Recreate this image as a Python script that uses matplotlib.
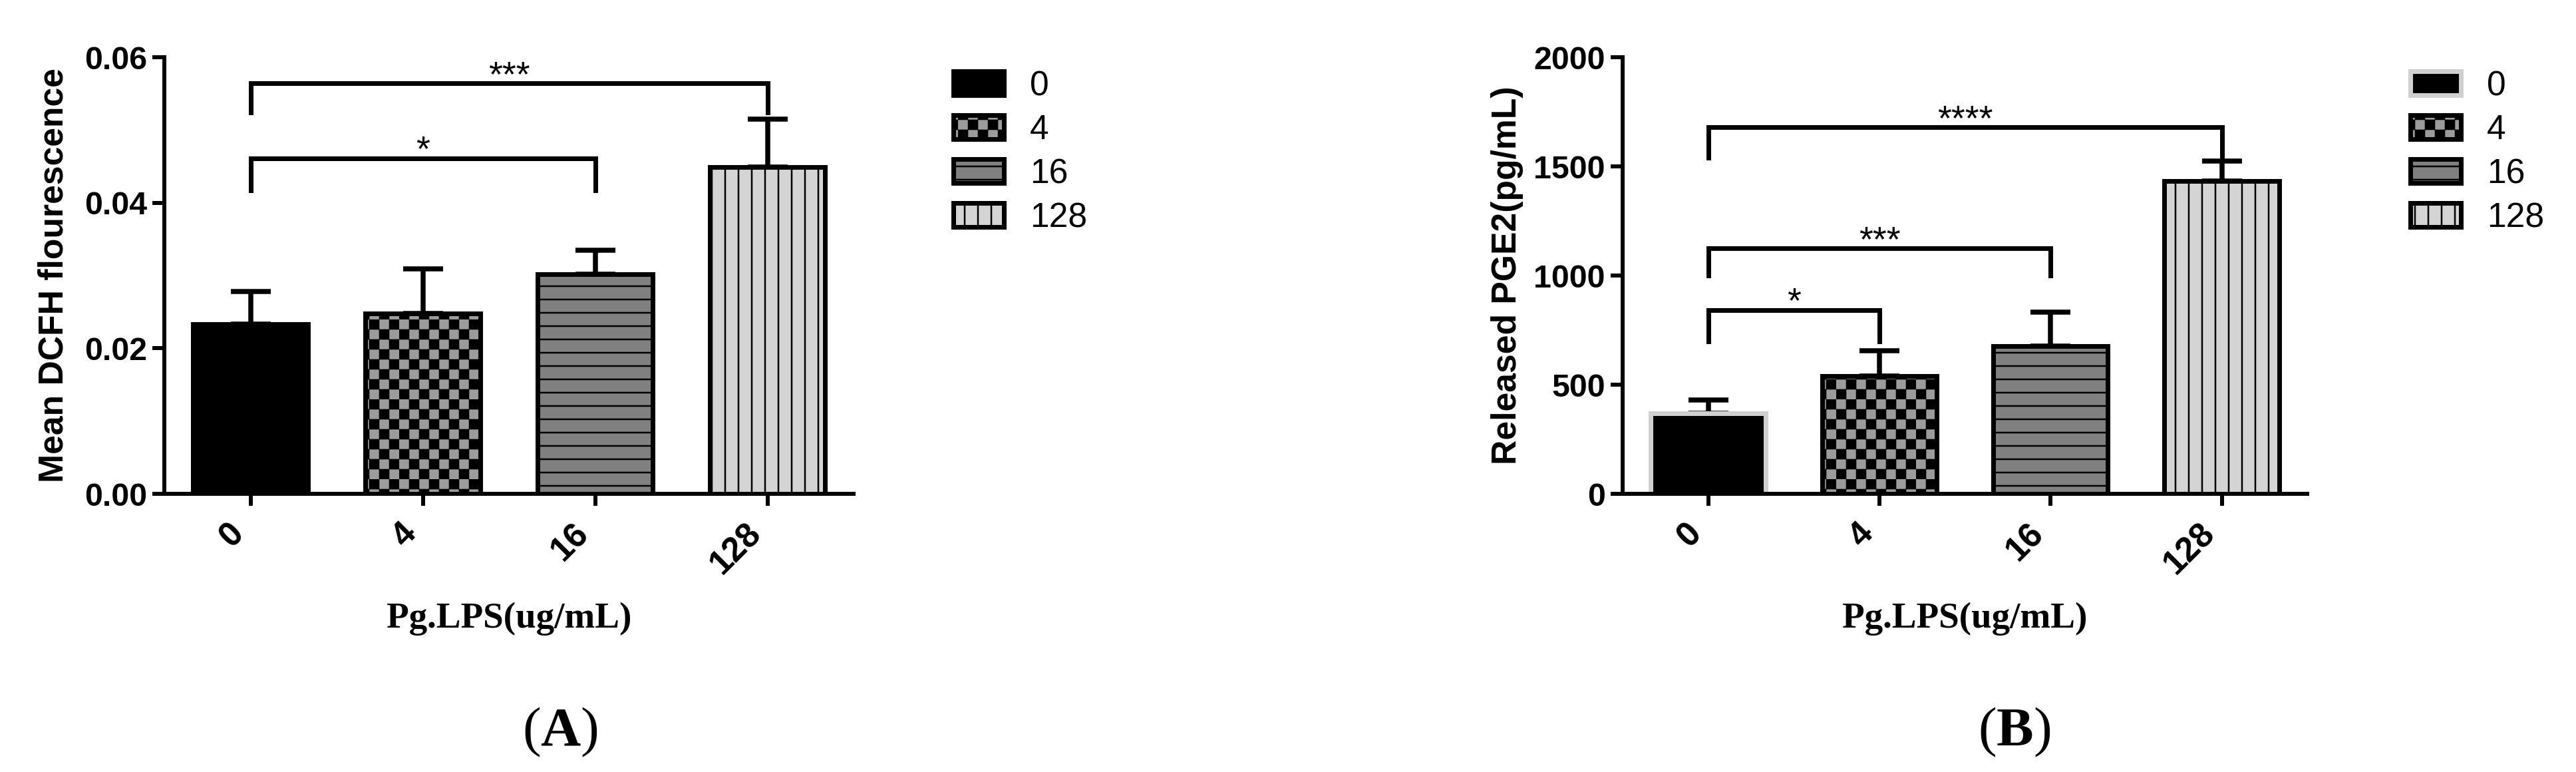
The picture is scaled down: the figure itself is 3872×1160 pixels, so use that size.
import numpy as np
import matplotlib
matplotlib.use("Agg")
import matplotlib.pyplot as plt
import matplotlib.hatch as mhatch
from matplotlib.path import Path

doses = ["0", "4", "16", "128"]

dcfh_mean = [0.0233, 0.0248, 0.0302, 0.0449]
dcfh_sem = [0.0045, 0.0061, 0.0033, 0.0066]

pge2_mean = [370, 541, 677, 1434]
pge2_sem = [59, 115, 157, 90]

# significance brackets: compared bars, bracket level, leg end, stars
dcfh_pairs = [(0, 2), (0, 3)]
dcfh_levels = [0.0461, 0.0564]
dcfh_legs = [0.0417, 0.0524]
dcfh_stars = ["*", "***"]

pge2_pairs = [(0, 1), (0, 2), (0, 3)]
pge2_levels = [843, 1124, 1679]
pge2_legs = [699, 1000, 1540]
pge2_stars = ["*", "***", "****"]

faces = ["black", "#9c9c9c", "#808080", "#d4d4d4"]
hatches = [None, ".", "-", "|"]


class CheckerHatch(mhatch.HatchPatternBase):
    # checkerboard fill, hooked onto the '.' hatch character
    def __init__(self, hatch, density):
        self.n = 8 if "." in hatch else 0
        self.num_vertices = self.n * self.n // 2 * 5

    def set_vertices_and_codes(self, vertices, codes):
        s = 1.0 / self.n
        d = 0.008
        k = 0
        for i in range(self.n):
            for j in range(self.n):
                if (i + j) % 2:
                    continue
                x0, y0, x1, y1 = i * s + d, j * s + d, (i + 1) * s - d, (j + 1) * s - d
                vertices[k:k + 5] = [(x0, y0), (x1, y0), (x1, y1), (x0, y1), (x0, y0)]
                codes[k:k + 5] = [Path.MOVETO, Path.LINETO, Path.LINETO,
                                  Path.LINETO, Path.CLOSEPOLY]
                k += 5


mhatch._hatch_types[mhatch._hatch_types.index(mhatch.SmallFilledCircles)] = CheckerHatch

plt.rcParams["font.family"] = ["Liberation Sans", "DejaVu Sans"]
plt.rcParams["hatch.linewidth"] = 1.5
plt.rcParams["mathtext.fontset"] = "custom"
plt.rcParams["mathtext.rm"] = "Liberation Serif"
plt.rcParams["mathtext.bf"] = "Liberation Serif:bold"


def draw_panel(ax, means, sems, edges, pairs, levels, legs, stars,
               yticks, fmt, ylabel, ylabel_x, legend_x):
    for i in range(len(doses)):
        ax.bar(i, means[i], width=0.67, color=faces[i], edgecolor=edges[i],
               linewidth=4.2, hatch=hatches[i], label=doses[i], zorder=2)
    ax.errorbar(range(len(doses)), means, yerr=[np.zeros(len(sems)), sems],
                fmt="none", ecolor="black", elinewidth=4.5, capsize=18,
                capthick=4.5, zorder=1)

    for (a, b), h, leg, s in zip(pairs, levels, legs, stars):
        ax.plot([a, a, b, b], [leg, h, h, leg], color="black", lw=4.2,
                solid_joinstyle="miter", clip_on=False)
        ax.annotate(s, xy=((a + b) / 2, h), xytext=(0, -2),
                    textcoords="offset points", ha="center", va="baseline",
                    fontsize=32)

    ax.set_xlim(-0.5, 3.5)
    ax.set_ylim(yticks[0], yticks[-1])
    ax.set_yticks(yticks, [fmt.format(v) for v in yticks],
                  fontsize=29, fontweight="bold")
    ax.set_xticks(range(len(doses)), doses, rotation=45, ha="right",
                  va="top", fontsize=31, fontweight="bold")
    ax.tick_params(width=3.6, length=10.8)
    ax.tick_params(axis="y", pad=4.8)
    ax.tick_params(axis="x", pad=10)
    for side in ["top", "right"]:
        ax.spines[side].set_visible(False)
    for side in ["left", "bottom"]:
        ax.spines[side].set_linewidth(3.6)

    ax.set_ylabel(ylabel, fontsize=31, fontweight="bold")
    ax.yaxis.set_label_coords(ylabel_x, 0.5)
    ax.text(0.5, -0.3064, "Pg.LPS(ug/mL)", transform=ax.transAxes,
            ha="center", va="baseline", family="Liberation Serif",
            weight="bold", fontsize=33)

    ax.legend(loc="upper left", bbox_to_anchor=(legend_x, 0.971),
              frameon=False, fontsize=31, handlelength=1.47,
              handleheight=0.70, handletextpad=0.75, labelspacing=0.33,
              borderpad=0, borderaxespad=0)


fig = plt.figure(figsize=(3872 / 120, 1160 / 120), dpi=120)
axA = fig.add_axes([0.0638, 0.3603, 0.2676, 0.5655])
axB = fig.add_axes([0.6299, 0.3603, 0.2658, 0.5655])

draw_panel(axA, dcfh_mean, dcfh_sem, ["black"] * 4,
           dcfh_pairs, dcfh_levels, dcfh_legs, dcfh_stars,
           [0, 0.02, 0.04, 0.06], "{:.2f}", "Mean DCFH flourescence",
           -0.137, 1.1448)
draw_panel(axB, pge2_mean, pge2_sem, ["#d0d0d0", "black", "black", "black"],
           pge2_pairs, pge2_levels, pge2_legs, pge2_stars,
           [0, 500, 1000, 1500, 2000], "{:.0f}", "Released PGE2(pg/mL)",
           -0.145, 1.1506)

fig.text(842 / 3872, 0.0345, r"($\mathbf{A}$)", ha="center", va="baseline",
         family="Liberation Serif", fontsize=50)
fig.text(3028 / 3872, 0.0345, r"($\mathbf{B}$)", ha="center", va="baseline",
         family="Liberation Serif", fontsize=50)

fig.savefig("out.png", dpi=120)
